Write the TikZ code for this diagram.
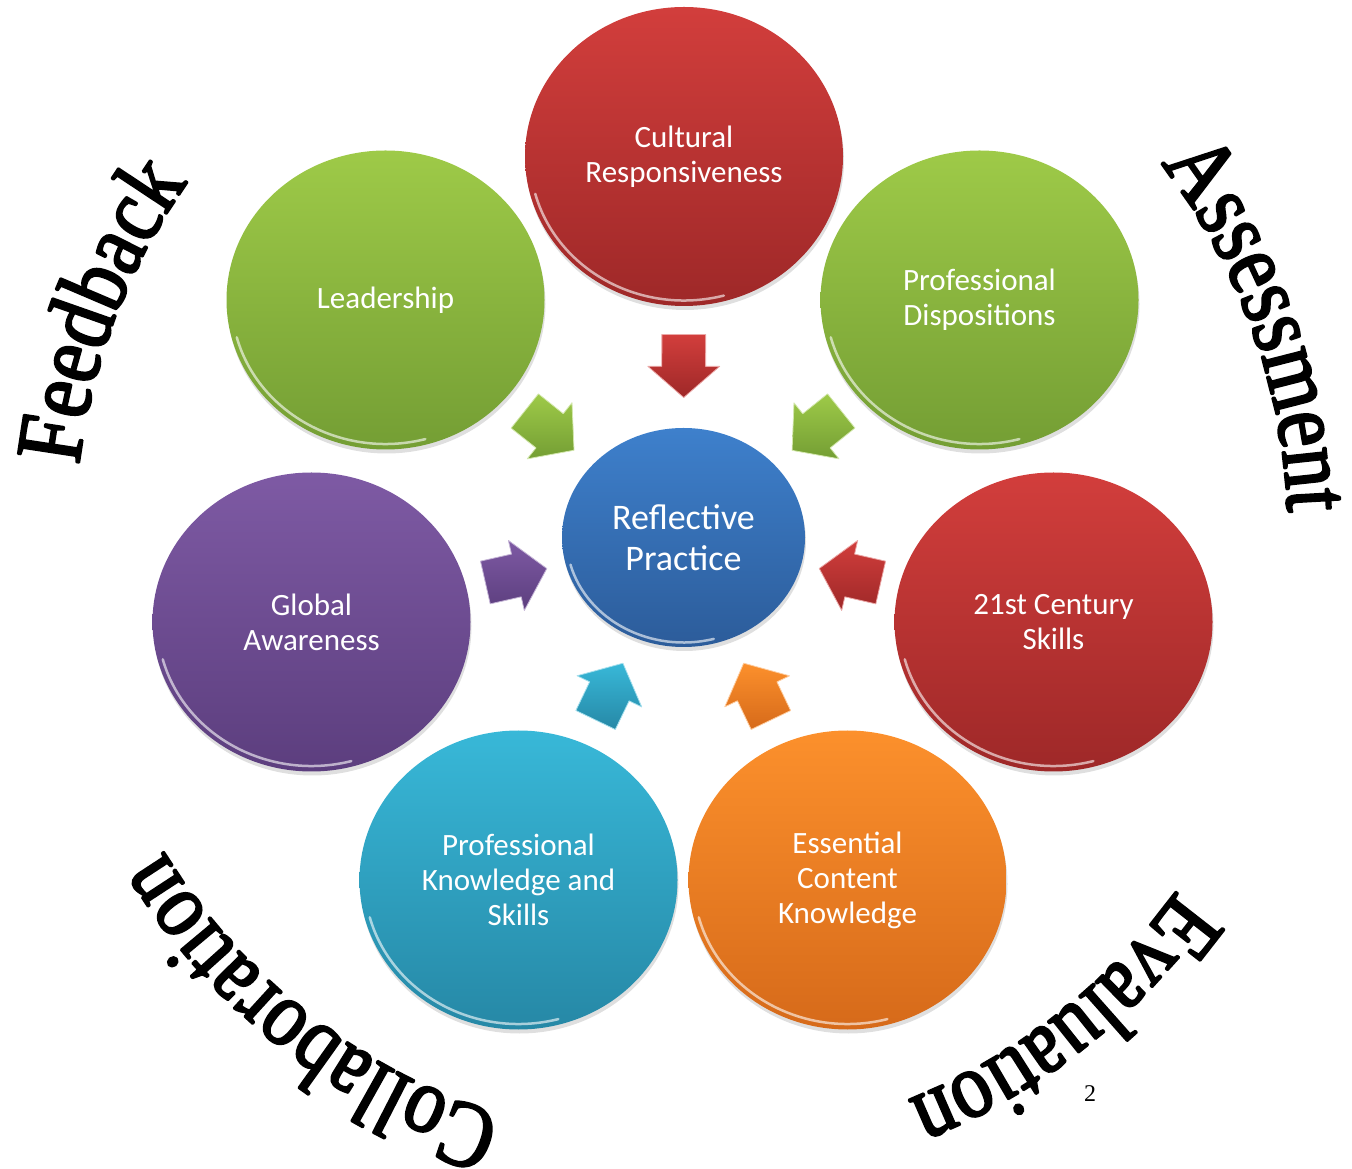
\documentclass[tikz,border=0pt]{standalone}
\usepackage{fontspec}
\setmainfont{Liberation Serif}
\newfontfamily\bubfont{Carlito}
\newfontfamily\arcserif[FakeStretch=0.85, FakeBold=2.5]{Liberation Serif}
\usetikzlibrary{calc,shapes.geometric,shapes.arrows,shadows,decorations.text}
\definecolor{redtop}{RGB}{210,62,60}\definecolor{redbot}{RGB}{158,40,40}
\definecolor{grntop}{RGB}{158,202,72}\definecolor{grnbot}{RGB}{116,158,52}
\definecolor{purtop}{RGB}{126,90,164}\definecolor{purbot}{RGB}{92,62,126}
\definecolor{blutop}{RGB}{62,128,204}\definecolor{blubot}{RGB}{44,92,154}
\definecolor{cyntop}{RGB}{56,184,216}\definecolor{cynbot}{RGB}{38,136,166}
\definecolor{orgtop}{RGB}{252,144,44}\definecolor{orgbot}{RGB}{214,106,26}
\newcommand\arcfont{\arcserif\fontsize{94}{110}\selectfont}
\begin{document}
\begin{tikzpicture}[x=1pt, y=1pt, line join=round, line cap=round,
  bubble/.style 2 args={ellipse, minimum width=318pt, minimum height=299pt, inner sep=0pt,
    top color=#1, bottom color=#2, text=white, align=center,
    font=\bubfont\fontsize{31}{35}\selectfont,
    drop shadow={opacity=.25, shadow xshift=1pt, shadow yshift=-4pt},
    path picture={\draw[white, opacity=.6, line width=2.5pt]
      ($(path picture bounding box.center)+(195:154 and 144)$)
      arc[start angle=195, end angle=285, x radius=154, y radius=144];}},
  hub/.style={bubble={blutop}{blubot}, minimum width=243pt, minimum height=219pt,
    font=\bubfont\fontsize{36}{41}\selectfont,
    path picture={\draw[white, opacity=.6, line width=2.5pt]
      ($(path picture bounding box.center)+(195:117 and 105)$)
      arc[start angle=195, end angle=285, x radius=117, y radius=105];}},
  blockarr/.style={single arrow, minimum height=63pt, minimum width=71pt, inner xsep=0pt,
    inner ysep=21.5pt, single arrow head extend=14pt, single arrow tip angle=98,
    sloped, allow upside down, line width=.8pt},
  ringtext/.style={decorate, decoration={text along path, text={|\arcfont|#1}, text align=center}}]
\useasboundingbox (0,0) rectangle (1352,1168);
% outer ring of bubbles
\node[bubble={redtop}{redbot}] (cult) at (684,1011.5) {Cultural\\Responsiveness};
\node[bubble={grntop}{grnbot}] (lead) at (385.5,868) {Leadership};
\node[bubble={grntop}{grnbot}] (pdis) at (979.5,868) {Professional\\Dispositions};
\node[bubble={purtop}{purbot}] (glob) at (311.5,546) {Global\\Awareness};
\node[bubble={redtop}{redbot}] (cent) at (1053.5,546) {21st Century\\Skills};
\node[bubble={cyntop}{cynbot}] (pks) at (518.5,288) {Professional\\Knowledge and\\Skills};
\node[bubble={orgtop}{orgbot}] (eck) at (847.5,288) {Essential\\Content\\Knowledge};
\node[hub] (refl) at (683.5,630.5) {Reflective\\Practice};
% arrows into the hub
\foreach \src/\hue in {cult/red, lead/grn, pdis/grn, glob/pur, cent/red, pks/cyn, eck/org}
  \path (\src.center) -- node[blockarr, pos=.525, top color=\hue top, bottom color=\hue bot,
    draw=\hue top!45!white] (a-\src) {} (refl.center);
% words round the outside
\coordinate (ring) at (683,633);
\path[ringtext=Feedback] (ring) ++(189:608) arc[start angle=189, end angle=129, radius=608];
\path[ringtext=Assessment] (ring) ++(50:605) arc[start angle=50, end angle=-10, radius=605];
\path[ringtext=Evaluation] (ring) ++(-22:608) arc[start angle=-22, end angle=-82, radius=608];
\path[ringtext=Collaboration] (ring) ++(262:608) arc[start angle=262, end angle=202, radius=608];
\node[font=\fontsize{24}{28}\selectfont] (pgnum) at (1090,74) {2};
\end{tikzpicture}
\end{document}
